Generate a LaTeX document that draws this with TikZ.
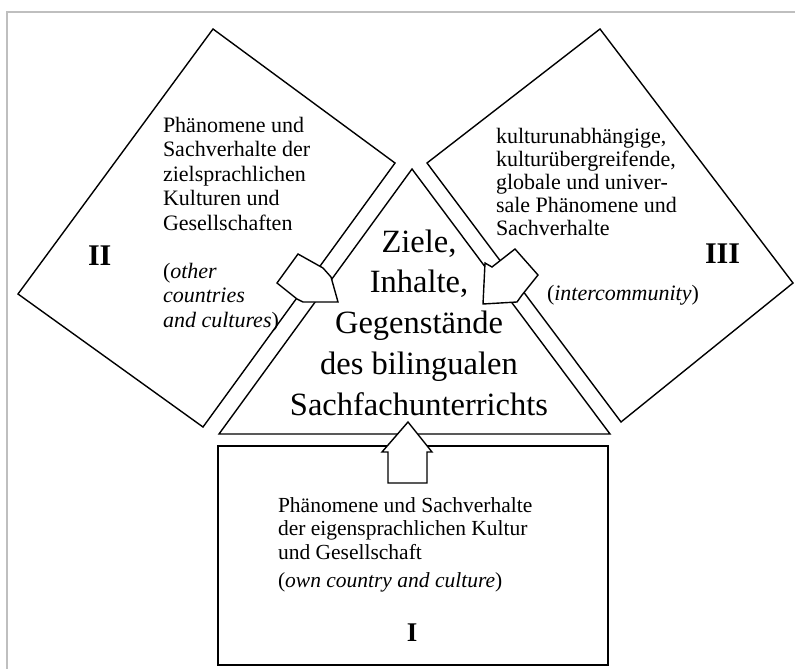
\documentclass[tikz,border=0pt]{standalone}
\usepackage{fontspec}
\setmainfont{Liberation Serif}
\begin{document}
\begin{tikzpicture}[x=1pt,y=-1pt,
  outline/.style={draw=black, line width=1.4pt, line join=miter},
  boxline/.style={draw=black, line width=1.8pt},
  blockarrow/.style={draw=black, fill=white, line width=1.4pt, line join=miter},
  frameline/.style={draw=black!25, line width=1.5pt},
  txt/.style={inner sep=0pt, outer sep=0pt, anchor=base west},
  ctxt/.style={inner sep=0pt, outer sep=0pt, anchor=base},
]
\useasboundingbox (0,0) rectangle (795,669);
\fill[white] (0,0) rectangle (795,669);
\draw[frameline] (7,669) -- (7,12) -- (795,12);

% Diamond II
\coordinate (IIt) at (213,29);
\coordinate (IIr) at (395,163);
\coordinate (IIb) at (203,427);
\coordinate (IIl) at (18,294);
\draw[outline] (IIt) -- (IIr) -- (IIb) -- (IIl) -- cycle;

% Diamond III
\coordinate (IIIt) at (600,29);
\coordinate (IIIr) at (793,283);
\coordinate (IIIb) at (621,422);
\coordinate (IIIl) at (427,163);
\draw[outline] (IIIt) -- (IIIr) -- (IIIb) -- (IIIl) -- cycle;

% Triangle
\coordinate (Ta) at (412,169);
\coordinate (Tl) at (219,434);
\coordinate (Tr) at (610,434);
\draw[outline] (Ta) -- (Tl) -- (Tr) -- cycle;

% Box I
\coordinate (Bnw) at (218,446);
\coordinate (Bse) at (608,665);
\draw[boxline] (Bnw) rectangle (Bse);

% Texts II
\node[txt] (IItext) at (163,132) {\parbox[t]{220pt}{\fontsize{22}{24.5}\selectfont\raggedright
Phänomene und\\ Sachverhalte der\\ zielsprachlichen\\ Kulturen und\\ Gesellschaften}};
\node[txt] (IIen) at (163,278) {\parbox[t]{220pt}{\fontsize{22}{24.5}\selectfont\raggedright
(\textit{other}\\ \textit{countries}\\ \textit{and cultures})}};
\node[txt] (IInum) at (88,265) {\fontsize{30}{30}\selectfont\bfseries II};

% Texts III
\node[txt] (IIItext) at (496,143) {\parbox[t]{260pt}{\fontsize{22}{23}\selectfont\raggedright
kulturunabhängige,\\ kulturübergreifende,\\ globale und univer-\\ sale Phänomene und\\ Sachverhalte}};
\node[txt] (IIIen) at (547,300) {\fontsize{22}{23}\selectfont(\textit{intercommunity})};
\node[txt] (IIInum) at (705,263) {\fontsize{30}{30}\selectfont\bfseries III};

% Centre text
\node[ctxt] (goal) at (419,252) {\parbox[t]{340pt}{\centering\fontsize{32.5}{40.75}\selectfont
Ziele,\\ Inhalte,\\ Gegenstände\\ des bilingualen\\ Sachfachunterrichts}};

% Texts I
\node[txt] (Itext) at (278,512) {\parbox[t]{300pt}{\fontsize{21.5}{23.5}\selectfont\raggedright
Phänomene und Sachverhalte\\ der eigensprachlichen Kultur\\ und Gesellschaft}};
\node[txt] (Ien) at (278,587) {\fontsize{21.5}{23.5}\selectfont(\textit{own country and culture})};
\node[ctxt] (Inum) at (412,641) {\fontsize{27}{27}\selectfont\bfseries I};

% Block arrows
\draw[blockarrow] (298,254) -- (323,268) -- (331,277) -- (338,302) -- (303,302) -- (297,299) -- (277,283) -- cycle;
\draw[blockarrow] (515,249) -- (538,275) -- (522,295) -- (517,302) -- (483,304) -- (485,263) -- (492,267) -- cycle;
\draw[blockarrow] (388,483) -- (388,452) -- (382,452) -- (408,422) -- (432,452) -- (427,452) -- (427,483) -- cycle;
\end{tikzpicture}
\end{document}
